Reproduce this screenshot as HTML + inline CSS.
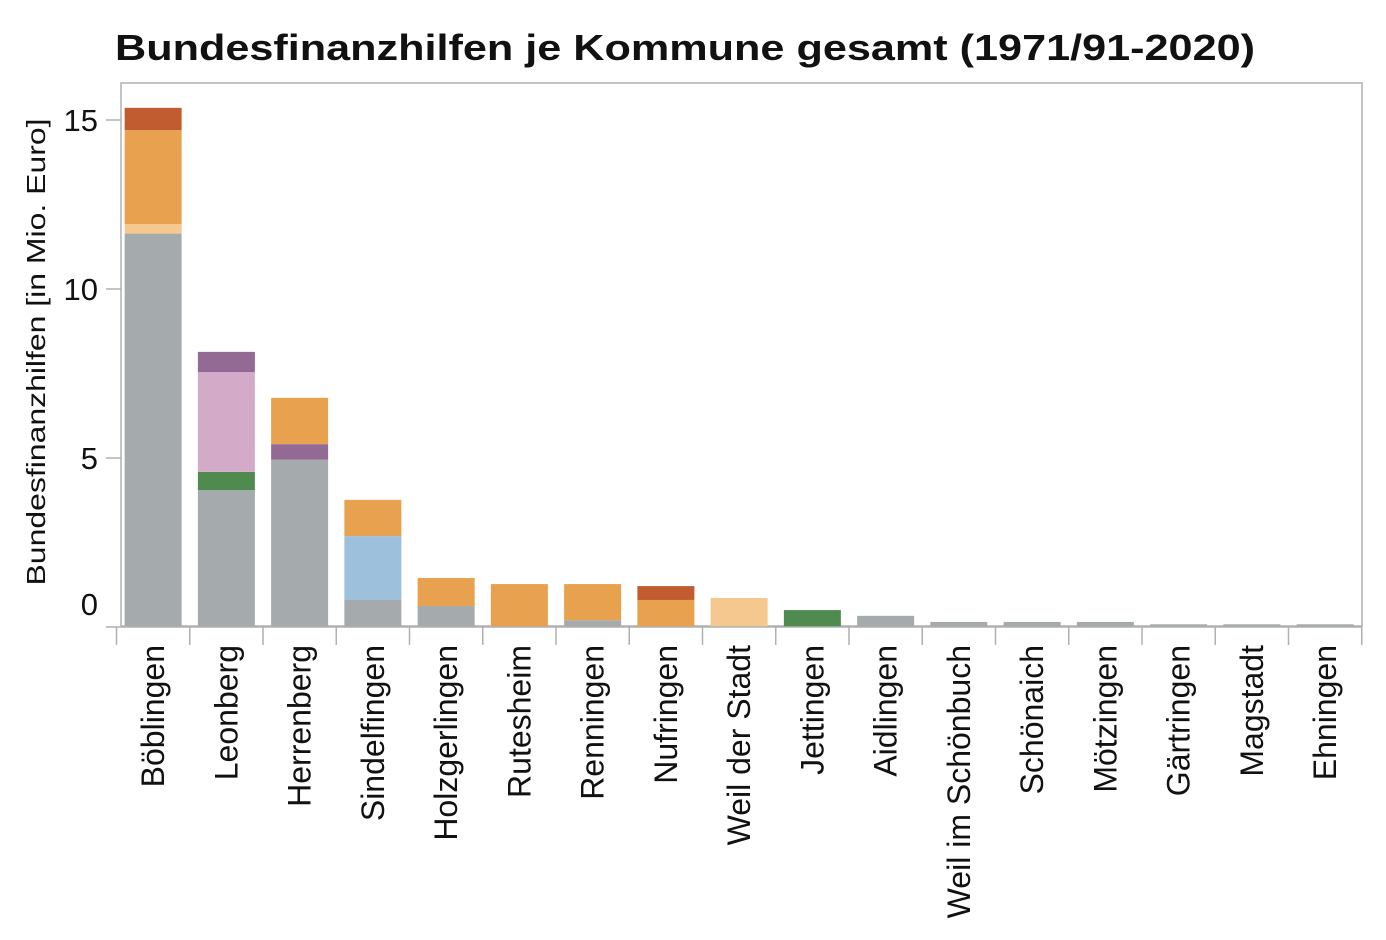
<!DOCTYPE html>
<html><head><meta charset="utf-8"><style>
html,body{margin:0;padding:0;background:#fff;}
svg{display:block;font-family:"Liberation Sans",Arial,sans-serif;}
</style></head><body>
<svg id="chart" width="1386" height="940">
<text x="115" y="60" font-size="36" font-weight="bold" textLength="1140" lengthAdjust="spacingAndGlyphs" fill="#111">Bundesfinanzhilfen je Kommune gesamt (1971/91-2020)</text>
<text transform="translate(45,352) rotate(-90)" text-anchor="middle" font-size="26" textLength="467" lengthAdjust="spacingAndGlyphs" fill="#111">Bundesfinanzhilfen [in Mio. Euro]</text>
<rect x="121" y="83" width="1241" height="543" fill="none" stroke="#b0b0b0" stroke-width="1.5"/>
<g id="bars"></g><g id="axes"></g>
</svg>
<script>
const categories = ["Böblingen","Leonberg","Herrenberg","Sindelfingen","Holzgerlingen","Rutesheim","Renningen","Nufringen","Weil der Stadt","Jettingen","Aidlingen","Weil im Schönbuch","Schönaich","Mötzingen","Gärtringen","Magstadt","Ehningen"];
const seriesNames = ["gray","lightorange","green","blue","pink","purple","orange","red"];
const seriesColors = ["#a5aaad","#f5c88f","#4f8a4f","#9dc0dc","#d4aac9","#926a93","#e8a14f","#c05c30"];
const sGray =        [11.64,4.05,4.95,0.8,0.62,0,0.2,0,0,0,0.33,0.15,0.15,0.15,0.08,0.08,0.08];
const sLightOrange = [0.28,0,0,0,0,0,0,0,0.86,0,0,0,0,0,0,0,0];
const sGreen =       [0,0.54,0,0,0,0,0,0,0,0.5,0,0,0,0,0,0,0];
const sBlue =        [0,0,0,1.89,0,0,0,0,0,0,0,0,0,0,0,0,0];
const sPink =        [0,2.95,0,0,0,0,0,0,0,0,0,0,0,0,0,0,0];
const sPurple =      [0,0.6,0.46,0,0,0,0,0,0,0,0,0,0,0,0,0,0];
const sOrange =      [2.78,0,1.37,1.07,0.83,1.27,1.07,0.8,0,0,0,0,0,0,0,0,0];
const sRed =         [0.66,0,0,0,0,0,0,0.41,0,0,0,0,0,0,0,0,0];
const yTicks = [0,5,10,15];
const series = [sGray,sLightOrange,sGreen,sBlue,sPink,sPurple,sOrange,sRed];
const NS="http://www.w3.org/2000/svg";
const y0=627, pxPerUnit=33.8, bandStart=116.5, bandW=73.25, barW=57;
function yScale(v){return y0 - v*pxPerUnit;}
function xBand(i){return bandStart + i*bandW;}
const bars=document.getElementById('bars'), axes=document.getElementById('axes');
categories.forEach((c,i)=>{
  let acc=0;
  series.forEach((s,k)=>{
    const v=s[i]; if(!v) return;
    const r=document.createElementNS(NS,'rect');
    const top=yScale(acc+v), bot=yScale(acc);
    r.setAttribute('x',xBand(i)+(bandW-barW)/2);
    r.setAttribute('y',top);
    r.setAttribute('width',barW);
    r.setAttribute('height',bot-top);
    r.setAttribute('fill',seriesColors[k]);
    
    
    bars.appendChild(r);
    acc+=v;
  });
  const t=document.createElementNS(NS,'text');
  const cx=xBand(i)+bandW/2+11;
  t.setAttribute('transform','translate('+cx+',645) rotate(-90)');
  t.setAttribute('text-anchor','end');
  t.setAttribute('font-size','32');
  t.setAttribute('fill','#111');
  t.textContent=c;
  
  
  axes.appendChild(t);
});
for(let i=0;i<=categories.length;i++){
  const l=document.createElementNS(NS,'line');
  const x=xBand(i);
  l.setAttribute('x1',x);l.setAttribute('x2',x);l.setAttribute('y1',627);l.setAttribute('y2',645);
  l.setAttribute('stroke','#b0b0b0');l.setAttribute('stroke-width','1.5');
  
  
  axes.appendChild(l);
}
const ax=document.createElementNS(NS,'line');
ax.setAttribute('x1',106);ax.setAttribute('x2',1362);ax.setAttribute('y1',627);ax.setAttribute('y2',627);
ax.setAttribute('stroke','#b0b0b0');ax.setAttribute('stroke-width','1.5');


axes.appendChild(ax);
yTicks.forEach(v=>{
  const y=yScale(v);
  if(v>0){
    const l=document.createElementNS(NS,'line');
    l.setAttribute('x1',106);l.setAttribute('x2',121);l.setAttribute('y1',y);l.setAttribute('y2',y);
    l.setAttribute('stroke','#b0b0b0');l.setAttribute('stroke-width','1.5');
    
    
    axes.appendChild(l);
  }
  const t=document.createElementNS(NS,'text');
  t.setAttribute('x',98);
  t.setAttribute('y',v===0?615:y+11);
  t.setAttribute('text-anchor','end');
  t.setAttribute('font-size','31');
  t.setAttribute('fill','#111');
  t.textContent=v;
  
  
  axes.appendChild(t);
});
</script>
</body></html>
